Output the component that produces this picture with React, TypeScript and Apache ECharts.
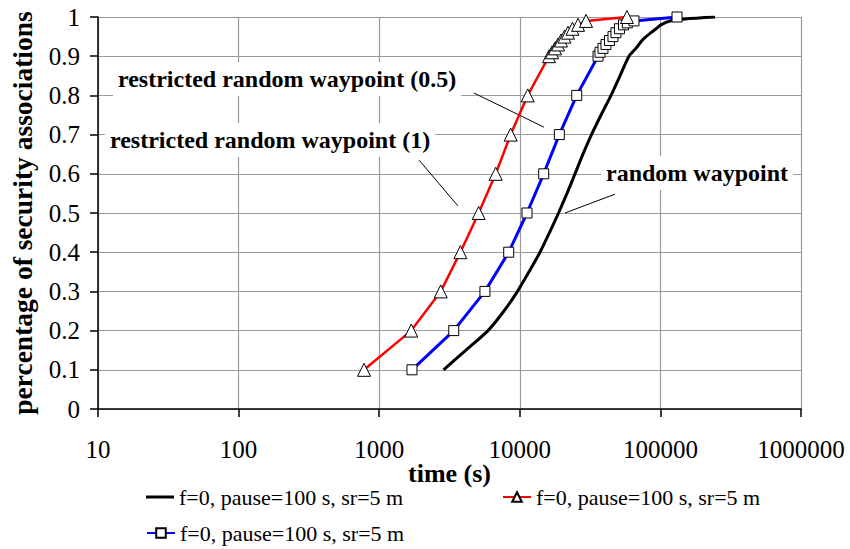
import React, { useEffect, useRef } from "react";
import * as echarts from "echarts";

const FONT = '"Liberation Serif", "Times New Roman", serif';

// x-axis ticks (time, s) and y-axis ticks
const xTicks = [10, 100, 1000, 10000, 100000, 1000000];
const yTicks = [0, 0.1, 0.2, 0.3, 0.4, 0.5, 0.6, 0.7, 0.8, 0.9, 1];

const legendLabel = "f=0, pause=100 s, sr=5 m";

// random waypoint (black)
const blackFrac = [0.1, 0.15, 0.2, 0.25, 0.3, 0.35, 0.4, 0.45, 0.5, 0.55, 0.6, 0.65, 0.7, 0.75, 0.8, 0.85, 0.9, 0.92, 0.94, 0.95, 0.96, 0.97, 0.98, 0.99, 0.995, 1.0];
const blackTime = [2870, 4140, 5940, 7720, 9630, 11620, 13930, 16260, 18850, 21670, 24700, 28130, 32360, 37830, 44550, 51620, 59790, 67000, 73970, 79030, 85700, 93070, 100900, 117000, 149600, 244500];

// restricted random waypoint (1) (red, triangles)
const redFrac = [0.1, 0.2, 0.3, 0.4, 0.5, 0.6, 0.7, 0.8, 0.9, 0.91, 0.92, 0.93, 0.94, 0.95, 0.96, 0.97, 0.98, 0.99, 1.0];
const redTime = [780, 1690, 2740, 3780, 5100, 6740, 8610, 11380, 16140, 16950, 17800, 18700, 19630, 20790, 22020, 23700, 25940, 29580, 57800];

// restricted random waypoint (0.5) (blue, squares)
const blueFrac = [0.1, 0.2, 0.3, 0.4, 0.5, 0.6, 0.7, 0.8, 0.9, 0.91, 0.92, 0.93, 0.94, 0.95, 0.96, 0.97, 0.98, 0.985, 0.99, 1.0];
const blueTime = [1710, 3390, 5650, 8340, 11250, 14790, 19100, 25400, 36000, 37180, 39050, 41020, 43430, 45990, 48300, 51160, 54650, 58200, 64860, 131300];

// annotation arrows: [fromTime, fromFrac, toTime, toFrac]
const arrows = [
  [4720, 0.806, 14860, 0.719],
  [1920, 0.635, 3630, 0.518],
  [47540, 0.548, 20940, 0.5],
];

const pairs = (xs: number[], ys: number[]) => xs.map((x, i) => [x, ys[i]]);

export default function App() {
  const ref = useRef<HTMLDivElement>(null);
  useEffect(() => {
    if (!ref.current) return;
    const chart = echarts.init(ref.current, null, { renderer: "svg" });
    const legendText = { fontFamily: FONT, fontSize: 22, color: "#000" };
    const labelStyle = (text: string) => ({
      text,
      font: `bold 24px ${FONT}`,
      fill: "#000",
      backgroundColor: "#fff",
      padding: [5, 5],
      align: "left",
      verticalAlign: "middle",
    });
    chart.setOption({
      animation: false,
      backgroundColor: "#fff",
      grid: { left: 98, right: 49, top: 17, bottom: 140, containLabel: false },
      xAxis: {
        type: "log",
        logBase: 10,
        min: xTicks[0],
        max: xTicks[xTicks.length - 1],
        name: "time (s)",
        nameLocation: "middle",
        nameGap: 51,
        nameMoveOverlap: false,
        nameTextStyle: { fontFamily: FONT, fontSize: 26, fontWeight: "bold", color: "#000" },
        axisLine: { lineStyle: { color: "#000", width: 1.5 } },
        axisTick: { show: true, length: 8, lineStyle: { color: "#000", width: 1.5 } },
        axisLabel: {
          margin: 28,
          fontFamily: FONT,
          fontSize: 25,
          color: "#000",
          formatter: (v: number) => String(Math.round(v)),
        },
        splitLine: { show: true, lineStyle: { color: "#9a9a9a", width: 1.2 } },
        minorTick: { show: false },
      },
      yAxis: {
        type: "value",
        min: yTicks[0],
        max: yTicks[yTicks.length - 1],
        interval: 0.1,
        name: "percentage of security associations",
        nameLocation: "middle",
        nameGap: 62,
        nameMoveOverlap: false,
        nameTextStyle: { fontFamily: FONT, fontSize: 27.5, fontWeight: "bold", color: "#000" },
        axisLine: { show: true, lineStyle: { color: "#000", width: 1.5 } },
        axisTick: { show: true, length: 8, lineStyle: { color: "#000", width: 1.5 } },
        axisLabel: {
          margin: 18,
          fontFamily: FONT,
          fontSize: 25,
          color: "#000",
          formatter: (v: number) => String(Math.round(v * 10) / 10),
        },
        splitLine: { show: true, lineStyle: { color: "#9a9a9a", width: 1.2 } },
      },
      legend: [
        { data: [{ name: "random waypoint", icon: "rect" }], left: 146, top: 486, padding: 0, itemWidth: 28, itemHeight: 3, itemGap: 0, textStyle: legendText, formatter: () => legendLabel, selectedMode: false },
        { data: ["restricted random waypoint (1)"], left: 502, top: 486, padding: 0, itemWidth: 28, itemHeight: 12, itemGap: 0, textStyle: legendText, formatter: () => legendLabel, selectedMode: false },
        { data: ["restricted random waypoint (0.5)"], left: 146, top: 522, padding: 0, itemWidth: 28, itemHeight: 12, itemGap: 0, textStyle: legendText, formatter: () => legendLabel, selectedMode: false },
      ],
      series: [
        {
          name: "random waypoint",
          type: "line",
          data: pairs(blackTime, blackFrac),
          symbol: "none",
          smooth: 0.25,
          lineStyle: { color: "#000", width: 3 },
          itemStyle: { color: "#000" },
          z: 3,
          markLine: {
            silent: true,
            symbol: ["none", "arrow"],
            symbolSize: [0, 7],
            label: { show: false },
            lineStyle: { color: "#000", width: 1, type: "solid" },
            data: arrows.map((a) => [{ coord: [a[0], a[1]] }, { coord: [a[2], a[3]] }]),
          },
        },
        {
          name: "restricted random waypoint (0.5)",
          type: "line",
          data: pairs(blueTime, blueFrac),
          symbol: "rect",
          symbolSize: 10,
          lineStyle: { color: "#0000ff", width: 3 },
          itemStyle: { color: "#fff", borderColor: "#000", borderWidth: 1 },
          z: 4,
        },
        {
          name: "restricted random waypoint (1)",
          type: "line",
          data: pairs(redTime, redFrac),
          symbol: "triangle",
          symbolSize: 13,
          lineStyle: { color: "#ff0000", width: 2.5 },
          itemStyle: { color: "#fff", borderColor: "#000", borderWidth: 1 },
          z: 5,
        },
      ],
      graphic: [
        { type: "text", x: 113, y: 79, z: 10, style: labelStyle("restricted random waypoint (0.5)") },
        { type: "text", x: 105, y: 140, z: 10, style: labelStyle("restricted random waypoint (1)") },
        { type: "text", x: 601, y: 173, z: 10, style: labelStyle("random waypoint") },
      ],
    });
    return () => chart.dispose();
  }, []);
  return <div ref={ref} style={{ width: 850, height: 549, position: "absolute", left: 0, top: 0 }} />;
}
